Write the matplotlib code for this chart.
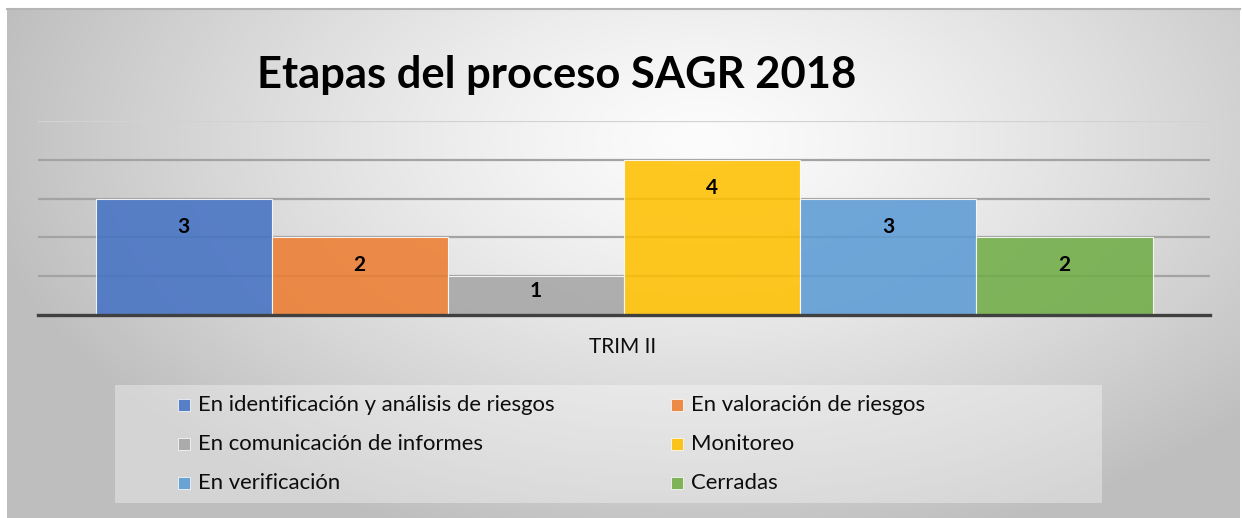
import numpy as np
import matplotlib
matplotlib.use("Agg")
import matplotlib.pyplot as plt
from matplotlib.patches import Rectangle

# ---- data ----
category = "TRIM II"
series = ["En identificación y análisis de riesgos", "En valoración de riesgos",
          "En comunicación de informes", "Monitoreo",
          "En verificación", "Cerradas"]
values = [3, 2, 1, 4, 3, 2]
colors = ["#4472C4", "#ED7D31", "#A5A5A5", "#FFC000", "#5B9BD5", "#70AD47"]
title = "Etapas del proceso SAGR 2018"

W, H = 1242, 518
fig = plt.figure(figsize=(W / 100, H / 100), dpi=100)
fig.patch.set_facecolor("white")

def fx(px):
    return px / W

def fy(py):
    return 1 - py / H

# ---- background (radial gradient chart area) ----
bx0, by0, bx1, by1 = 7, 8, 1240, 518
bg = fig.add_axes([fx(bx0), fy(by1), fx(bx1 - bx0), (by1 - by0) / H])
bg.set_zorder(0)
xx, yy = np.meshgrid(np.arange(bx0, bx1), np.arange(by0, by1))
d = np.sqrt(((xx - 700) / 730.0) ** 2 + ((yy - 140) / 420.0) ** 2)
d = np.clip(d, 0, 1)
g = (252 - 62 * d ** 1.3) / 255.0
img = np.dstack([g, g, g])
bg.imshow(img, aspect="auto", extent=[0, 1, 0, 1], interpolation="bilinear")
bg.axis("off")
# top border line
fig.add_artist(plt.Line2D([fx(bx0), fx(bx1)], [fy(by0 + 1), fy(by0 + 1)],
                          color="#b5b5b5", lw=1.5, zorder=1))

# ---- main axes ----
ax = fig.add_axes([fx(38), fy(315), fx(1210 - 38), (315 - 121) / H])
ax.set_zorder(2)
ax.patch.set_alpha(0)
n = len(series)
group_w = 1057 / 1172
bw = group_w / n
xs = [-group_w / 2 + bw * (i + 0.5) for i in range(n)]
bars = ax.bar(xs, values, width=bw, color=colors, alpha=0.87,
              edgecolor=(1, 1, 1, 0.6), linewidth=0.8, zorder=2)
ax.set_xlim(-0.5, 0.5)
ax.set_ylim(0, 5)
ax.set_yticks([1, 2, 3, 4, 5])
ax.yaxis.grid(True, color="#a3a3a3", lw=1.6)
ax.get_ygridlines()[-1].set_color("#d2d2d2")
ax.set_axisbelow(True)
ax.tick_params(left=False, bottom=False, labelleft=False, labelbottom=False)
for s in ["left", "right", "top"]:
    ax.spines[s].set_visible(False)
ax.spines["bottom"].set_color("#404040")
ax.spines["bottom"].set_linewidth(2.4)
ax.spines["bottom"].set_zorder(3)

# data labels
fig.canvas.draw()
for b, v in zip(bars, values):
    top_px = ax.transData.transform((0, v))[1]
    base_px = ax.transData.transform((0, 0))[1]
    off = min(28, (top_px - base_px) * 0.37)
    ax.annotate(str(v), (b.get_x() + b.get_width() / 2, v),
                xytext=(0, -off * 72 / 100), textcoords="offset points",
                ha="center", va="center", fontsize=15, fontweight="bold",
                family="Lato", color="black", zorder=4)

# category label
fig.text(fx(623), fy(347), category, ha="center", va="center",
         fontsize=15, family="Lato", color="#0d0d0d")

# title
t = fig.text(fx(557), fy(75), title, ha="center", va="center",
             fontsize=36, fontweight="bold", family="Lato", color="black")

# ---- legend ----
fig.add_artist(Rectangle((fx(115), fy(503)), fx(1102 - 115), (503 - 385) / H,
                         transform=fig.transFigure, facecolor="white",
                         alpha=0.35, edgecolor="none", zorder=1))
col_x = [178, 671]
row_y = [405, 444, 483]
sq = 12
leg_texts = []
for i, (name, c) in enumerate(zip(series, colors)):
    cx, ry = col_x[i % 2], row_y[i // 2]
    fig.add_artist(Rectangle((fx(cx), fy(ry + sq / 2)), fx(sq), sq / H,
                             transform=fig.transFigure, facecolor=c, alpha=0.87,
                             edgecolor=(1, 1, 1, 0.6), lw=0.6, zorder=3))
    leg_texts.append(fig.text(fx(cx + 20), fy(ry), name, ha="left", va="center",
                              fontsize=14.5, family="Lato", color="#0d0d0d",
                              zorder=3))

# fit font sizes to measured widths
fig.canvas.draw()
r = fig.canvas.get_renderer()
def fit(txt, target):
    w = txt.get_window_extent(r).width
    txt.set_fontsize(txt.get_fontsize() * target / w)
fit(t, 598)
fit(leg_texts[0], 356)
fs = leg_texts[0].get_fontsize()
for tx in leg_texts:
    tx.set_fontsize(fs)

fig.savefig("out.png", dpi=100)
